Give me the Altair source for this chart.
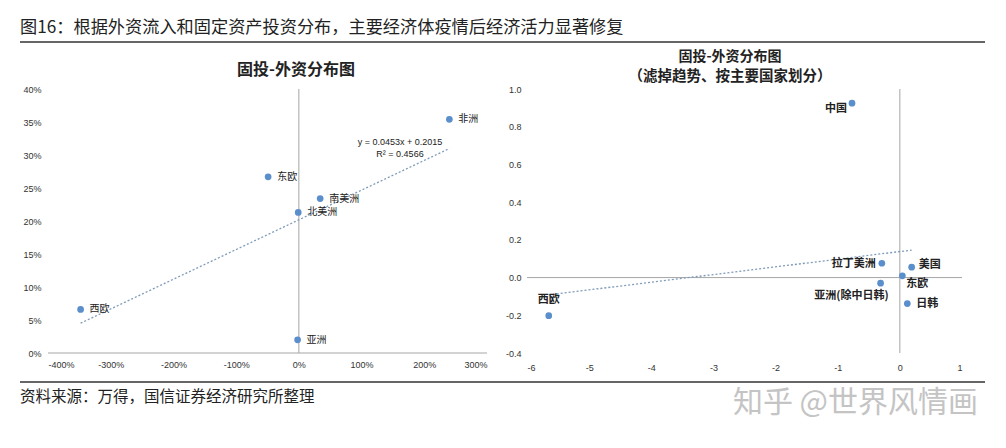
import altair as alt
import pandas as pd

# ---------------- data ----------------
left_names = ["非洲", "东欧", "南美洲", "北美洲", "西欧", "亚洲"]
left_x = [2.40, -0.49, 0.34, -0.01, -3.48, -0.02]
left_y = [0.354, 0.267, 0.234, 0.213, 0.066, 0.020]

right_names = ["中国", "拉丁美洲", "美国", "东欧", "亚洲(除中日韩)", "日韩", "西欧"]
right_x = [-0.77, -0.29, 0.19, 0.04, -0.31, 0.12, -5.65]
right_y = [0.925, 0.076, 0.055, 0.009, -0.030, -0.138, -0.202]

left_x_ticks = [-4, -3, -2, -1, 0, 1, 2, 3]
left_y_ticks = [0, 0.05, 0.10, 0.15, 0.20, 0.25, 0.30, 0.35, 0.40]
right_x_ticks = [-6, -5, -4, -3, -2, -1, 0, 1]
right_y_ticks = [-0.4, -0.2, 0.0, 0.2, 0.4, 0.6, 0.8, 1.0]

main_title = "图16：根据外资流入和固定资产投资分布，主要经济体疫情后经济活力显著修复"
left_title = "固投-外资分布图"
right_title_1 = "固投-外资分布图"
right_title_2 = "（滤掉趋势、按主要国家划分）"
equation = ["y = 0.0453x + 0.2015", "R² = 0.4566"]
source = "资料来源：万得，国信证券经济研究所整理"
watermark = "知乎 @世界风情画"

# ---------------- style ----------------
FONT = "Noto Sans CJK SC"
NUMFONT = "Liberation Sans"
BLUE = "#5b8fcc"
AXIS_GRAY = "#a6a6a6"
TREND = "#7f9bb8"
LW, RW, H = 439, 435, 264
HYPHEN = "replace(datum.label, '\u2212', '-')"


def one(t=""):
    return pd.DataFrame({"t": [t]})


def deco_text(t, x, y, **kw):
    return alt.Chart(one(t)).mark_text(font=FONT, baseline="middle", **kw).encode(
        text="t:N", x=alt.value(x), y=alt.value(y))


def deco_rule(x, x2, y, **kw):
    return alt.Chart(one()).mark_rule(**kw).encode(
        x=alt.value(x), x2=alt.value(x2), y=alt.value(y))


# ---------------- left panel ----------------
ldf = pd.DataFrame({"name": left_names, "x": left_x, "y": left_y})
lx = alt.X("x:Q", title=None,
           scale=alt.Scale(domain=[-4, 3], nice=False, zero=False),
           axis=alt.Axis(values=left_x_ticks, format=".0%", labelPadding=7, labelExpr=HYPHEN))
ly = alt.Y("y:Q", title=None,
           scale=alt.Scale(domain=[0, 0.4], nice=False),
           axis=alt.Axis(values=left_y_ticks, format=".0%", labelPadding=7))

lbase = alt.Chart(ldf).encode(x=lx, y=ly)
l_v = alt.Chart(pd.DataFrame({"x": [0]})).mark_rule(color=AXIS_GRAY, strokeWidth=1).encode(x=lx)
l_h = alt.Chart(pd.DataFrame({"y": [0]})).mark_rule(color=AXIS_GRAY, strokeWidth=1).encode(y=ly)
l_trend = lbase.transform_regression("x", "y").mark_line(
    color=TREND, strokeDash=[2, 2], strokeWidth=1.3)
l_pts = lbase.mark_circle(size=45, color=BLUE, opacity=1)
l_lbl = lbase.mark_text(align="left", baseline="middle", dx=9, font=FONT,
                        fontSize=10, color="#222").encode(text="name:N")
l_eq = alt.Chart(one()).mark_text(font=NUMFONT, fontSize=9, color="#222",
                                  align="center", baseline="middle", lineHeight=12).encode(
    text=alt.value(equation), x=alt.value(352), y=alt.value(53))

left = alt.layer(
    deco_rule(-28, 0, -81, strokeOpacity=0, strokeWidth=1),
    deco_text(main_title, -28, -61, align="left", fontSize=17.2, color="#222"),
    deco_rule(-28, 937, -47, color="#333", strokeWidth=1.5),
    deco_text(left_title, 248, -19, align="center", fontSize=16, fontWeight="bold", color="#222"),
    deco_rule(-28, 937, 293, color="#333", strokeWidth=1.5),
    deco_text(source, -28, 308, align="left", fontSize=15.5, color="#222"),
    deco_text(watermark, 930, 314, align="right", fontSize=30, color="#c4c4c4"),
    l_h, l_v, l_trend, l_pts, l_lbl, l_eq,
).properties(width=LW, height=H)

# ---------------- right panel ----------------
rdf = pd.DataFrame({"name": right_names, "x": right_x, "y": right_y})
rx = alt.X("x:Q", title=None,
           scale=alt.Scale(domain=[-6, 1], nice=False, zero=False),
           axis=alt.Axis(values=right_x_ticks, format="d", labelPadding=10, labelExpr=HYPHEN))
ry = alt.Y("y:Q", title=None,
           scale=alt.Scale(domain=[-0.4, 1.0], nice=False, zero=False),
           axis=alt.Axis(values=right_y_ticks, format=".1f", labelPadding=6, labelExpr=HYPHEN))

rbase = alt.Chart(rdf).encode(x=rx, y=ry)
r_v = alt.Chart(pd.DataFrame({"x": [0]})).mark_rule(color=AXIS_GRAY, strokeWidth=1).encode(x=rx)
r_h = alt.Chart(pd.DataFrame({"y": [0]})).mark_rule(color=AXIS_GRAY, strokeWidth=1).encode(y=ry)
r_trend = rbase.transform_regression("x", "y").mark_line(
    color=TREND, strokeDash=[2, 2], strokeWidth=1.3)
r_pts = rbase.mark_circle(size=45, color=BLUE, opacity=1)

# label placement per point (style, not data)
placements = {
    "中国": dict(align="right", dx=-5, dy=6),
    "拉丁美洲": dict(align="right", dx=-6, dy=1),
    "美国": dict(align="left", dx=7, dy=-2),
    "东欧": dict(align="left", dx=4, dy=8),
    "亚洲(除中日韩)": dict(align="right", dx=8, dy=13),
    "日韩": dict(align="left", dx=9, dy=0),
    "西欧": dict(align="center", dx=0, dy=-16),
}
r_lbls = [
    rbase.transform_filter(alt.datum.name == n).mark_text(
        baseline="middle", font=FONT, fontSize=11, fontWeight="bold", color="#222", **p
    ).encode(text="name:N")
    for n, p in placements.items()
]

right = alt.layer(
    deco_text(right_title_1, 203, -32, align="center", fontSize=14, fontWeight="bold", color="#222"),
    deco_text(right_title_2, 203, -12, align="center", fontSize=14.5, fontWeight="bold", color="#222"),
    r_h, r_v, r_trend, r_pts, *r_lbls,
).properties(width=RW, height=H)

chart = alt.hconcat(left, right, spacing=40, bounds="flush").properties(
    padding={"left": 11, "top": 0, "right": 5, "bottom": 5}
).configure_view(stroke=None).configure_axis(
    domain=False, ticks=False, grid=False,
    labelFont=NUMFONT, labelFontSize=9, labelColor="#333"
)

chart.save("out.html", embed_options={"renderer": "svg", "actions": False})
